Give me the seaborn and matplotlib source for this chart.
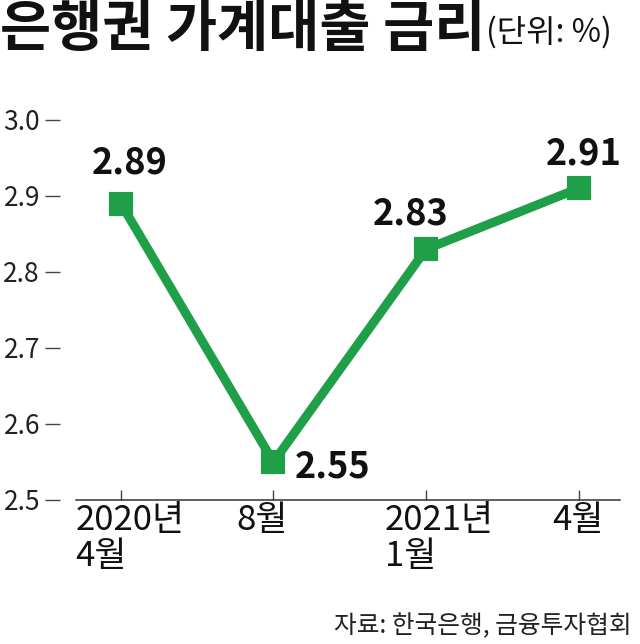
import matplotlib
matplotlib.use("Agg")
import matplotlib.pyplot as plt
import matplotlib.transforms as mtransforms
import seaborn as sns
import pandas as pd

# Data
categories = ["2020년\n4월", "8월", "2021년\n1월", "4월"]
rates = [2.89, 2.55, 2.83, 2.91]
yticks = [2.5, 2.6, 2.7, 2.8, 2.9, 3.0]
title = "은행권 가계대출 금리"
unit = "(단위: %)"
source = "자료: 한국은행, 금융투자협회"

sns.set_theme(style="white")
plt.rcParams["font.family"] = ["Noto Sans CJK KR", "DejaVu Sans"]

GREEN = "#1e9f48"
df = pd.DataFrame({"idx": range(len(categories)), "rate": rates})

fig = plt.figure(figsize=(6.4, 6.44), dpi=100)
ax = fig.add_axes([76/640, 144/644, 544/640, 380/644])

sns.lineplot(data=df, x="idx", y="rate", ax=ax, color=GREEN, linewidth=6.5,
             marker="s", markersize=15, markeredgewidth=3, markeredgecolor=GREEN,
             markerfacecolor=GREEN, solid_joinstyle="round")
for line in ax.lines:
    line.set_markeredgecolor(GREEN)
    line.set_solid_capstyle("round")

ax.set_xlim(-0.295, 3.272)
ax.set_ylim(2.5, 3.0)
ax.set_xlabel("")
ax.set_ylabel("")

for s in ["top", "right"]:
    ax.spines[s].set_visible(False)
ax.spines["left"].set_position(("outward", 11.5))
ax.spines["left"].set_visible(False)
ax.spines["bottom"].set_color("#333333")
ax.spines["bottom"].set_linewidth(1.1)

ax.set_yticks(yticks)
ax.set_yticklabels([f"{v:.1f}" for v in yticks])
ax.tick_params(axis="y", left=True, length=10.8, width=1.0, color="#444444",
               pad=3.6, labelsize=19, labelcolor="#222222")
ax.set_xticks(range(len(categories)))
ax.set_xticklabels(categories)
ax.tick_params(axis="x", bottom=True, direction="in", length=7, width=1.0,
               color="#444444", pad=2, labelsize=25, labelcolor="#111111")
label_shift_px = [9, -11, 13, -1]
for t, dx in zip(ax.get_xticklabels(), label_shift_px):
    t.set_multialignment("left")
    t.set_linespacing(1.05)
    t.set_transform(t.get_transform() +
                    mtransforms.ScaledTranslation(dx / 100, 0, fig.dpi_scale_trans))
ax.grid(False)

offsets = [((6.5, 29), "center"), ((15.5, -3.6), "left"),
           ((-11, 25), "center"), ((3.6, 25), "center")]
for i, (v, (off, ha)) in enumerate(zip(rates, offsets)):
    ax.annotate(f"{v:.2f}", (i, v), xytext=off, textcoords="offset points",
                ha=ha, va="center", fontsize=26, fontweight="bold", color="#111111")

t = fig.text(0.0, 1 - 2/644, title, ha="left", va="top", fontsize=40,
             fontweight="heavy", color="#111111")
fig.canvas.draw()
bb = t.get_window_extent()
fig.text((bb.x1 + 1) / 640, 1 - 16/644, unit, ha="left", va="top",
         fontsize=23, color="#111111")
fig.text(632/640, 5/644, source, ha="right", va="bottom", fontsize=17.8,
         color="#222222")

fig.savefig("out.png", dpi=100)
